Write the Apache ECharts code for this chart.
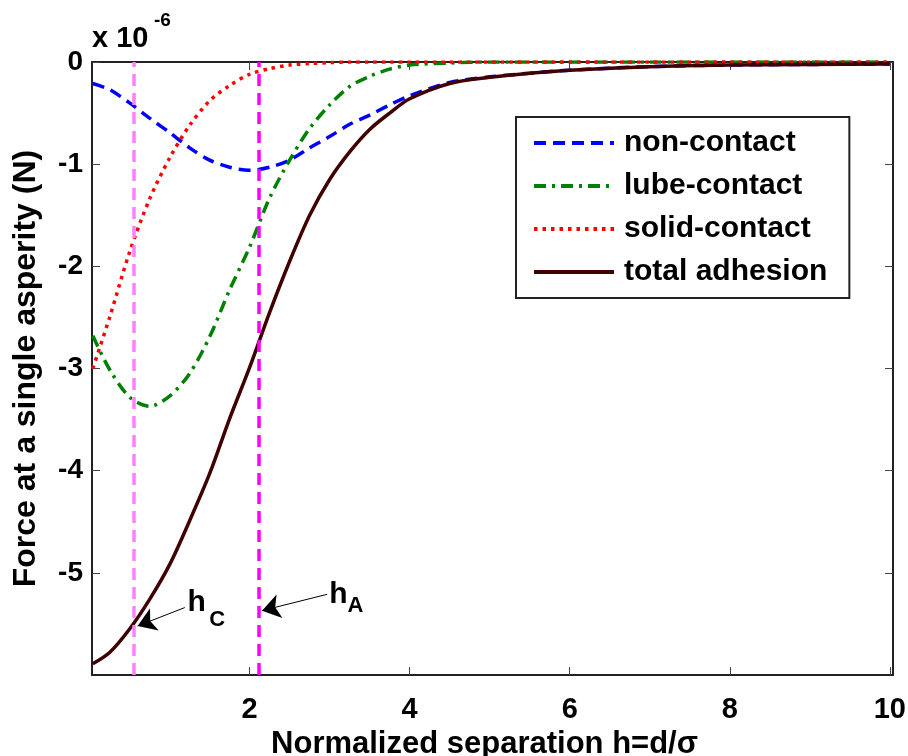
<!DOCTYPE html>
<html><head><meta charset="utf-8">
<script src="https://cdn.jsdelivr.net/npm/echarts@6/dist/echarts.min.js"></script>
<style>html,body{margin:0;padding:0;background:#fff}#c{width:908px;height:756px}</style>
</head><body><div id="c"></div>
<script>
// normalized separation h = d/sigma
const hValues     = [0.04, 0.25, 0.5, 0.75, 1.0, 1.25, 1.5, 1.75, 2.0, 2.25, 2.5, 2.75, 3.0, 3.25, 3.5, 3.75, 4.0, 4.5, 5, 5.5, 6, 7, 8, 9, 10];
// forces (x 1e-6 N)
const nonContact  = [-0.21, -0.27, -0.40, -0.55, -0.69, -0.84, -0.96, -1.03, -1.06, -1.03, -0.96, -0.84, -0.73, -0.61, -0.52, -0.42, -0.33, -0.20, -0.145, -0.11, -0.08, -0.045, -0.03, -0.024, -0.02];
const lubeContact = [-2.68, -3.01, -3.28, -3.37, -3.27, -3.05, -2.69, -2.23, -1.81, -1.33, -0.96, -0.65, -0.42, -0.24, -0.14, -0.07, -0.03, -0.01, 0, 0, 0, 0, 0, 0, 0];
const solidContact= [-3.00, -2.50, -1.86, -1.34, -0.94, -0.62, -0.38, -0.23, -0.12, -0.065, -0.03, -0.015, -0.006, 0, 0, 0, 0, 0, 0, 0, 0, 0, 0, 0, 0];
const totalAdhesion=[-5.89, -5.78, -5.55, -5.26, -4.92, -4.49, -4.03, -3.49, -2.99, -2.45, -1.95, -1.50, -1.15, -0.88, -0.66, -0.50, -0.36, -0.21, -0.15, -0.11, -0.08, -0.046, -0.03, -0.024, -0.02];
const xTicks = [2, 4, 6, 8, 10];
const yTicks = [-5, -4, -3, -2, -1, 0];
const hC = 0.55, hA = 2.12;
const arrowC = [[1.19, -5.34], [0.60, -5.52]];
const arrowA = [[2.97, -5.21], [2.155, -5.37]];
const labelPts = [
  {value: [1.23, -5.44], text: 'h', size: 30},
  {value: [1.50, -5.57], text: 'C', size: 22},
  {value: [3.00, -5.37], text: 'h', size: 30},
  {value: [3.23, -5.44], text: 'A', size: 22}
];

const FONT = "'Liberation Sans', Arial, sans-serif";
const pair = arr => hValues.map((h, i) => [h, arr[i]]);
const chart = echarts.init(document.getElementById('c'), null, {renderer: 'canvas'});

const xBase = {type: 'value', min: 0.03, max: 10.04,
  axisLine: {show: true, onZero: false, lineStyle: {color: '#222', width: 2}},
  splitLine: {show: false}};
const yBase = {type: 'value', min: -6, max: 0,
  axisLine: {show: true, onZero: false, lineStyle: {color: '#222', width: 2}},
  splitLine: {show: false}};
const arrowEnd = c => [{coord: c[0], symbol: 'none', symbolSize: 1}, {coord: c[1], symbol: 'arrow', symbolSize: 18}];

chart.setOption({
  animation: false,
  backgroundColor: '#fff',
  textStyle: {fontFamily: FONT},
  grid: {left: 92, right: 15, top: 62, bottom: 81, containLabel: false, outerBoundsMode: 'none'},
  xAxis: [
    Object.assign({}, xBase, {position: 'bottom',
      axisTick: {show: true, inside: true, length: 8, customValues: xTicks, lineStyle: {color: '#444', width: 1}},
      axisLabel: {show: true, customValues: xTicks, margin: 20, color: '#000', fontSize: 29, fontWeight: 'bold', fontFamily: FONT},
      name: 'Normalized separation h=d/\u03c3', nameLocation: 'middle', nameGap: 52,
      nameTextStyle: {color: '#000', fontSize: 31, fontWeight: 'bold', fontFamily: FONT, padding: [0, 16, 0, 0]}}),
    Object.assign({}, xBase, {position: 'top',
      axisTick: {show: true, inside: true, length: 8, customValues: xTicks, lineStyle: {color: '#444', width: 1}},
      axisLabel: {show: false}})
  ],
  yAxis: [
    Object.assign({}, yBase, {position: 'left',
      axisTick: {show: true, inside: true, length: 8, customValues: yTicks, lineStyle: {color: '#444', width: 1}},
      axisLabel: {show: true, customValues: yTicks, margin: 9, color: '#000', fontSize: 28, fontWeight: 'bold', fontFamily: FONT},
      name: 'Force at a single asperity (N)', nameLocation: 'middle', nameGap: 50, nameRotate: 90,
      nameTextStyle: {color: '#000', fontSize: 32, fontWeight: 'bold', fontFamily: FONT}}),
    Object.assign({}, yBase, {position: 'right',
      axisTick: {show: true, inside: true, length: 8, customValues: yTicks, lineStyle: {color: '#444', width: 1}},
      axisLabel: {show: false}})
  ],
  legend: {
    orient: 'vertical', left: 516, top: 117,
    data: ['non-contact', 'lube-contact', 'solid-contact', 'total adhesion'],
    itemWidth: 80, itemHeight: 14, itemGap: 13,
    padding: [11, 22, 11, 16],
    borderColor: '#222', borderWidth: 2, backgroundColor: '#fff',
    itemStyle: {opacity: 0},
    lineStyle: {width: 4},
    textStyle: {color: '#000', fontSize: 30, fontWeight: 'bold', fontFamily: FONT, padding: [0, 0, 0, 5]}
  },
  series: [
    {name: 'non-contact', type: 'line', data: pair(nonContact), showSymbol: false, symbol: 'none', smooth: 0.3,
      lineStyle: {color: '#0000ff', width: 3.5, type: [12, 7]}, itemStyle: {color: '#0000ff'}, z: 3},
    {name: 'lube-contact', type: 'line', data: pair(lubeContact), showSymbol: false, symbol: 'none', smooth: 0.3,
      lineStyle: {color: '#008000', width: 3.5, type: [12, 6, 3, 6]}, itemStyle: {color: '#008000'}, z: 3},
    {name: 'solid-contact', type: 'line', data: pair(solidContact), showSymbol: false, symbol: 'none', smooth: 0.3,
      lineStyle: {color: '#ff0000', width: 3.5, type: [3.5, 5]}, itemStyle: {color: '#ff0000'}, z: 3},
    {name: 'total adhesion', type: 'line', data: pair(totalAdhesion), showSymbol: false, symbol: 'none', smooth: 0.3,
      lineStyle: {color: '#400000', width: 3.5, type: 'solid'}, itemStyle: {color: '#400000'}, z: 3},
    {name: 'hC line', type: 'line', data: [], z: 5,
      markLine: {silent: true, symbol: ['none', 'none'], label: {show: false},
        lineStyle: {color: '#ff80ff', width: 3.5, type: [12, 7]}, data: [{xAxis: hC}]}},
    {name: 'hA line', type: 'line', data: [], z: 5,
      markLine: {silent: true, symbol: ['none', 'none'], label: {show: false},
        lineStyle: {color: '#ff00ff', width: 3.5, type: [12, 7]}, data: [{xAxis: hA}]}},
    {name: 'arrows', type: 'line', data: [], z: 6,
      markLine: {silent: true, symbol: ['none', 'arrow'], symbolSize: 18, label: {show: false},
        itemStyle: {color: '#000'},
        lineStyle: {color: '#000', width: 1, type: 'solid'},
        data: [arrowEnd(arrowC), arrowEnd(arrowA)]}},
    {name: 'annot', type: 'scatter', symbolSize: 1, z: 6, silent: true,
      itemStyle: {color: 'rgba(0,0,0,0)', opacity: 1},
      data: labelPts.map(p => ({value: p.value,
        label: {show: true, position: [0, 0], align: 'left', verticalAlign: 'bottom', formatter: p.text,
          color: '#000', opacity: 1, fontSize: p.size, fontWeight: 'bold', fontFamily: FONT}}))}
  ],
  graphic: [
    {type: 'text', left: 92, top: 24, style: {text: 'x 10', fill: '#000', font: "bold 29px " + FONT}},
    {type: 'text', left: 154, top: 11, style: {text: '-6', fill: '#000', font: "bold 19px " + FONT}}
  ]
});
</script></body></html>
